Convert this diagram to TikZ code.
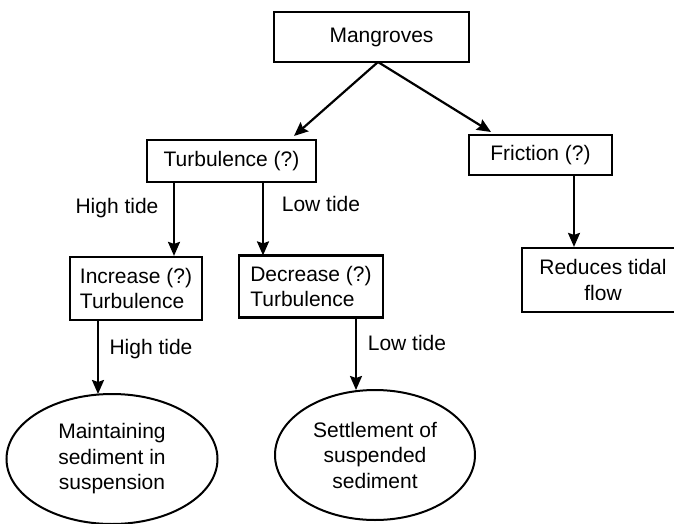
\documentclass[tikz,border=0pt]{standalone}
\usepackage{fontspec}
\setmainfont{Liberation Sans}
\usetikzlibrary{arrows.meta,shapes.geometric}
\begin{document}
\begin{tikzpicture}[x=1pt,y=-1pt,
  every node/.style={font=\fontsize{21}{25.5}\selectfont},
  box/.style={draw,line width=2.2pt,rectangle,inner sep=0pt},
  oval/.style={draw,line width=2pt,ellipse,inner sep=0pt,align=center},
  lbl/.style={inner sep=0pt},
  arr/.style={line width=2.2pt,-{Stealth[length=14pt,width=12pt,inset=2pt]}}]
\useasboundingbox (0,0) rectangle (674,524);
\node[box,minimum width=195pt,minimum height=50pt] (mang) at (371.5,37) {\hspace*{20pt}Mangroves};
\node[box,minimum width=169pt,minimum height=42pt] (turb) at (231.5,161) {Turbulence (?)};
\node[box,minimum width=143pt,minimum height=40pt] (fric) at (540.5,155) {Friction (?)};
\node[box,minimum width=132pt,minimum height=63pt,align=left] (inc) at (136,288.5) {Increase (?)\\Turbulence};
\node[box,minimum width=144pt,minimum height=62pt,align=left] (dec) at (311,286.5) {Decrease (?)\\Turbulence};
\node[box,minimum width=162pt,minimum height=64pt,align=center] (red) at (603,280) {Reduces tidal\\flow};
\node[oval,minimum width=211pt,minimum height=130pt] (ell1) at (112,459) {Maintaining\\sediment in\\suspension};
\node[oval,minimum width=200pt,minimum height=130pt] (ell2) at (375,455) {Settlement of\\suspended\\sediment};
\coordinate (mb) at (378,62);
\draw[arr] (mb) -- (294,136);
\draw[arr] (mb) -- (491,132);
\draw[arr] (turb.south -| 174,0) -- (inc.north -| 174,0);
\draw[arr] (turb.south -| 263,0) -- ([yshift=-1pt]dec.north -| 263,0);
\draw[arr] (fric.south -| 574,0) -- (red.north -| 574,0);
\draw[arr] (inc.south -| 98,0) -- (98,394);
\draw[arr] (dec.south -| 356,0) -- (356,390);
\node[lbl] (l1) at (117,208) {High tide};
\node[lbl] (l2) at (321,204) {Low tide};
\node[lbl] (l3) at (151,349) {High tide};
\node[lbl] (l4) at (407,343) {Low tide};
\end{tikzpicture}
\end{document}
